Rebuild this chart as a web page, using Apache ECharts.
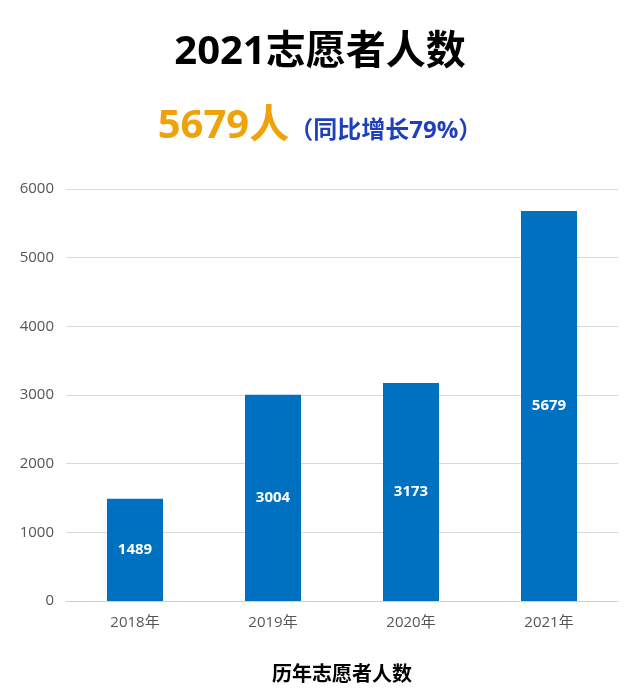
<!DOCTYPE html>
<html><head><meta charset="utf-8">
<script src="https://cdn.jsdelivr.net/npm/echarts@6/dist/echarts.min.js"></script>
<style>html,body{margin:0;padding:0;background:#fff}#c{width:640px;height:695px}</style>
</head><body><div id="c"></div>
<script>
const categories = ['2018年','2019年','2020年','2021年'];
const volunteers = [1489, 3004, 3173, 5679];
const yTicks = [0,1000,2000,3000,4000,5000,6000];
const chart = echarts.init(document.getElementById('c'));
chart.setOption({
  animation:false,
  title:[
    {text:'2021志愿者人数',left:'center',top:28,textStyle:{fontSize:40,fontWeight:'bold',color:'#000',fontFamily:'Open Sans, Noto Sans CJK SC'}},
    {text:'{a|5679人}{b|（同比增长79%）}',left:'center',top:102,textStyle:{rich:{
      a:{fontSize:40,fontWeight:'bold',color:'#EFA20A',fontFamily:'Open Sans, Noto Sans CJK SC'},
      b:{fontSize:24,fontWeight:'bold',color:'#1F3FBF',fontFamily:'Open Sans, Noto Sans CJK SC',padding:[8,0,0,0]}}}}
  ],
  grid:{left:66,right:22,top:189,bottom:94},
  xAxis:{type:'category',data:categories,
    name:'历年志愿者人数',nameLocation:'middle',nameGap:62,
    nameTextStyle:{fontSize:20,fontWeight:'bold',color:'#000',fontFamily:'Noto Sans CJK SC'},
    axisTick:{show:false},axisLine:{lineStyle:{color:'#d0d0d0'}},
    axisLabel:{fontSize:15,color:'#555',margin:14,fontFamily:'Open Sans, Noto Sans CJK SC'}},
  yAxis:{type:'value',min:yTicks[0],max:yTicks[yTicks.length-1],interval:1000,
    axisLabel:{fontSize:15,color:'#555',margin:12,fontFamily:'Open Sans',formatter:v=>String(v)},
    splitLine:{lineStyle:{color:'#d9d9d9'}}},
  series:[{type:'bar',data:volunteers,barWidth:56,itemStyle:{color:'#0070C0'},
    label:{show:true,position:'inside',color:'#fff',fontWeight:'bold',fontSize:15,fontFamily:'Open Sans'}}]
});
</script></body></html>
